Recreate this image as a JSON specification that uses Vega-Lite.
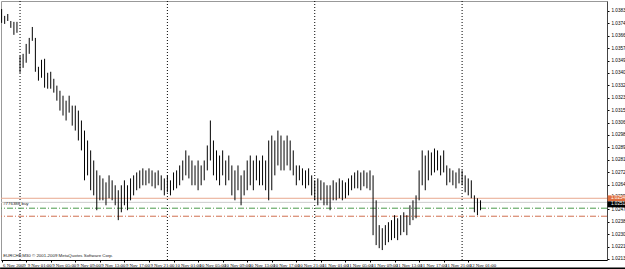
{
"$schema": "https://vega.github.io/schema/vega-lite/v6.json",
"width": 606, "height": 259,
"autosize": "none",
"padding": {"left": 1, "top": 1, "right": 18, "bottom": 9},
"background": "white",
"config": {"view": {"stroke": "#999999"}, "font": "Liberation Sans", "axis": {"labelOverlap": false, "tickCount": 200}},
"datasets": {
"bars": [
{"i":0,"h":1.03843,"l":1.03748},{"i":1,"h":1.03796,"l":1.03741},{"i":2,"h":1.03809,"l":1.03761},{"i":3,"h":1.03761,"l":1.03714},{"i":4,"h":1.03755,"l":1.03666},{"i":5,"h":1.03755,"l":1.03680},
{"i":6,"h":1.03522,"l":1.03406},{"i":7,"h":1.03536,"l":1.03440},{"i":8,"h":1.03604,"l":1.03475},{"i":9,"h":1.03645,"l":1.03536},{"i":10,"h":1.03720,"l":1.03625},{"i":11,"h":1.03645,"l":1.03413},{"i":12,"h":1.03447,"l":1.03352},{"i":13,"h":1.03495,"l":1.03372},{"i":14,"h":1.03502,"l":1.03304},{"i":15,"h":1.03406,"l":1.03297},{"i":16,"h":1.03413,"l":1.03297},{"i":17,"h":1.03365,"l":1.03270},
{"i":18,"h":1.03318,"l":1.03215},{"i":19,"h":1.03283,"l":1.03147},{"i":20,"h":1.03249,"l":1.03113},{"i":21,"h":1.03215,"l":1.03079},{"i":22,"h":1.03249,"l":1.03133},{"i":23,"h":1.03181,"l":1.03044},{"i":24,"h":1.03181,"l":1.03010},{"i":25,"h":1.03147,"l":1.02942},{"i":26,"h":1.03079,"l":1.02874},{"i":27,"h":1.03010,"l":1.02669},{"i":28,"h":1.02942,"l":1.02703},{"i":29,"h":1.02874,"l":1.02601},
{"i":30,"h":1.02805,"l":1.02566},{"i":31,"h":1.02737,"l":1.02464},{"i":32,"h":1.02703,"l":1.02532},{"i":33,"h":1.02682,"l":1.02532},{"i":34,"h":1.02655,"l":1.02498},{"i":35,"h":1.02703,"l":1.02546},{"i":36,"h":1.02669,"l":1.02532},{"i":37,"h":1.02635,"l":1.02498},{"i":38,"h":1.02601,"l":1.02396},{"i":39,"h":1.02635,"l":1.02450},
{"i":40,"h":1.02669,"l":1.02498},{"i":41,"h":1.02635,"l":1.02464},{"i":42,"h":1.02682,"l":1.02532},{"i":43,"h":1.02703,"l":1.02566},{"i":44,"h":1.02723,"l":1.02601},{"i":45,"h":1.02737,"l":1.02614},{"i":46,"h":1.02751,"l":1.02635},{"i":47,"h":1.02737,"l":1.02635},{"i":48,"h":1.02751,"l":1.02648},{"i":49,"h":1.02737,"l":1.02628},
{"i":50,"h":1.02723,"l":1.02614},{"i":51,"h":1.02737,"l":1.02635},{"i":52,"h":1.02703,"l":1.02601},{"i":53,"h":1.02682,"l":1.02566},{"i":54,"h":1.02703,"l":1.02587},{"i":55,"h":1.02669,"l":1.02566},{"i":56,"h":1.02723,"l":1.02601},{"i":57,"h":1.02737,"l":1.02614},{"i":58,"h":1.02771,"l":1.02635},{"i":59,"h":1.02805,"l":1.02669},
{"i":60,"h":1.02874,"l":1.02703},{"i":61,"h":1.02839,"l":1.02682},{"i":62,"h":1.02805,"l":1.02635},{"i":63,"h":1.02771,"l":1.02635},{"i":64,"h":1.02805,"l":1.02601},{"i":65,"h":1.02771,"l":1.02635},{"i":66,"h":1.02805,"l":1.02669},{"i":67,"h":1.02908,"l":1.02737},{"i":68,"h":1.03079,"l":1.02805},{"i":69,"h":1.02942,"l":1.02703},
{"i":70,"h":1.02874,"l":1.02669},{"i":71,"h":1.02839,"l":1.02635},{"i":72,"h":1.02874,"l":1.02703},{"i":73,"h":1.02805,"l":1.02635},{"i":74,"h":1.02839,"l":1.02669},{"i":75,"h":1.02771,"l":1.02566},{"i":76,"h":1.02737,"l":1.02532},{"i":77,"h":1.02771,"l":1.02601},{"i":78,"h":1.02703,"l":1.02498},{"i":79,"h":1.02737,"l":1.02566},
{"i":80,"h":1.02805,"l":1.02601},{"i":81,"h":1.02839,"l":1.02635},{"i":82,"h":1.02805,"l":1.02601},{"i":83,"h":1.02839,"l":1.02669},{"i":84,"h":1.02805,"l":1.02635},{"i":85,"h":1.02839,"l":1.02635},{"i":86,"h":1.02805,"l":1.02601},{"i":87,"h":1.02942,"l":1.02532},{"i":88,"h":1.02976,"l":1.02601},{"i":89,"h":1.02942,"l":1.02703},
{"i":90,"h":1.03010,"l":1.02771},{"i":91,"h":1.02976,"l":1.02737},{"i":92,"h":1.02942,"l":1.02737},{"i":93,"h":1.02976,"l":1.02771},{"i":94,"h":1.02942,"l":1.02737},{"i":95,"h":1.02874,"l":1.02703},{"i":96,"h":1.02771,"l":1.02635},{"i":97,"h":1.02771,"l":1.02669},{"i":98,"h":1.02751,"l":1.02635},{"i":99,"h":1.02737,"l":1.02614},
{"i":100,"h":1.02751,"l":1.02635},{"i":101,"h":1.02703,"l":1.02566},{"i":102,"h":1.02669,"l":1.02532},{"i":103,"h":1.02682,"l":1.02498},{"i":104,"h":1.02669,"l":1.02532},{"i":105,"h":1.02655,"l":1.02498},{"i":106,"h":1.02635,"l":1.02498},{"i":107,"h":1.02635,"l":1.02464},{"i":108,"h":1.02669,"l":1.02532},{"i":109,"h":1.02655,"l":1.02532},
{"i":110,"h":1.02682,"l":1.02546},{"i":111,"h":1.02669,"l":1.02532},{"i":112,"h":1.02655,"l":1.02546},{"i":113,"h":1.02682,"l":1.02566},{"i":114,"h":1.02703,"l":1.02601},{"i":115,"h":1.02723,"l":1.02614},{"i":116,"h":1.02737,"l":1.02614},{"i":117,"h":1.02723,"l":1.02601},{"i":118,"h":1.02737,"l":1.02628},{"i":119,"h":1.02723,"l":1.02614},
{"i":120,"h":1.02737,"l":1.02601},{"i":121,"h":1.02703,"l":1.02293},{"i":122,"h":1.02532,"l":1.02225},{"i":123,"h":1.02362,"l":1.02204},{"i":124,"h":1.02341,"l":1.02191},{"i":125,"h":1.02362,"l":1.02225},{"i":126,"h":1.02382,"l":1.02245},{"i":127,"h":1.02396,"l":1.02259},{"i":128,"h":1.02430,"l":1.02273},{"i":129,"h":1.02409,"l":1.02259},
{"i":130,"h":1.02430,"l":1.02293},{"i":131,"h":1.02450,"l":1.02314},{"i":132,"h":1.02430,"l":1.02293},{"i":133,"h":1.02498,"l":1.02362},{"i":134,"h":1.02532,"l":1.02396},{"i":135,"h":1.02566,"l":1.02409},{"i":136,"h":1.02737,"l":1.02532},{"i":137,"h":1.02874,"l":1.02635},{"i":138,"h":1.02839,"l":1.02601},{"i":139,"h":1.02874,"l":1.02669},
{"i":140,"h":1.02860,"l":1.02703},{"i":141,"h":1.02887,"l":1.02723},{"i":142,"h":1.02874,"l":1.02737},{"i":143,"h":1.02839,"l":1.02703},{"i":144,"h":1.02874,"l":1.02723},{"i":145,"h":1.02771,"l":1.02635},{"i":146,"h":1.02751,"l":1.02655},{"i":147,"h":1.02737,"l":1.02635},{"i":148,"h":1.02723,"l":1.02614},{"i":149,"h":1.02751,"l":1.02648},
{"i":150,"h":1.02737,"l":1.02635},{"i":151,"h":1.02703,"l":1.02587},{"i":152,"h":1.02682,"l":1.02566},{"i":153,"h":1.02669,"l":1.02546},{"i":154,"h":1.02566,"l":1.02450},{"i":155,"h":1.02546,"l":1.02430},{"i":156,"h":1.02532,"l":1.02464}
],
"seps": [{"i":6},{"i":54},{"i":102},{"i":150}],
"levels": [
{"name":"bid","p":1.02546,"dash":"solid"},
{"name":"ask","p":1.02518,"dash":"solid"},
{"name":"open","p":1.02478,"dash":"dashdot"},
{"name":"sl","p":1.02423,"dash":"dashdot"}
],
"boxes": [
{"name":"bid","top":1.02566,"bottom":1.02525,"mid":1.02546,"label":"1.02546"},
{"name":"ask","top":1.02525,"bottom":1.02484,"mid":1.02505,"label":"1.02518"}
],
"notes": [
{"label":"#776388 buy","p":1.02505},
{"label":"EURCHF,M30  © 2001-2009 MetaQuotes Software Corp.","p":1.02150}
],
"one": [{}]
},
"layer": [
{"data": {"name": "seps"}, "mark": {"type": "rule", "color": "#000000", "strokeDash": [1, 2], "strokeWidth": 1},
 "encoding": {"x": {"field": "i", "type": "quantitative"}}},
{"data": {"name": "levels"}, "mark": {"type": "rule", "strokeWidth": 1},
 "encoding": {"y": {"field": "p", "type": "quantitative"},
  "color": {"field": "name", "type": "nominal", "scale": {"domain": ["bid","ask","open","sl"], "range": ["#e8a890","#cccccc","#4a9a4a","#d07050"]}, "legend": null},
  "strokeDash": {"field": "dash", "type": "nominal", "scale": {"domain": ["solid","dashdot"], "range": [[1,0],[6,2,1,2]]}, "legend": null}}},
{"data": {"name": "bars"}, "mark": {"type": "rule", "color": "#000000", "strokeWidth": 1},
 "encoding": {
  "x": {"field": "i", "type": "quantitative", "scale": {"domain": [-0.2, 197.2], "nice": false, "zero": false},
   "axis": {"orient": "bottom", "title": null, "grid": false, "tickCount": 200, "values": [0,8,16,24,32,40,48,56,64,72,80,88,96,104,112,120,128,136,144,152],
    "labelExpr": "datum.value == 0 ? '6 Nov 2009' : (9 + floor((datum.value - 6) / 48)) + ' Nov ' + (((datum.value - 6) % 48) / 2 < 10 ? '0' : '') + (((datum.value - 6) % 48) / 2) + ':00'",
    "labelAlign": "left", "labelBaseline": "top", "labelFont": "Liberation Sans Narrow", "labelFontSize": 4.8, "labelColor": "#000000", "labelPadding": 0, "labelOffset": 1, "tickSize": 2, "tickColor": "#000000", "domainColor": "#000000", "labelOverlap": false, "labelFlush": false, "labelBound": false}},
  "y": {"field": "h", "type": "quantitative", "scale": {"domain": [1.02123, 1.03898], "nice": false, "zero": false},
   "axis": {"orient": "right", "title": null, "grid": false, "tickCount": 200, "values": [1.0213,1.02215,1.023,1.02385,1.0247,1.02555,1.0264,1.02725,1.0281,1.02895,1.0298,1.03065,1.0315,1.03235,1.0332,1.03405,1.0349,1.03575,1.0366,1.03745,1.0383],
    "format": ".5f", "labelFontSize": 4.6, "labelColor": "#000000", "labelPadding": 2, "tickSize": 2, "tickColor": "#000000", "domainColor": "#444444", "labelOverlap": false, "labelFlush": false, "labelBound": false}},
  "y2": {"field": "l"}}},
{"data": {"name": "notes"}, "mark": {"type": "text", "align": "left", "baseline": "middle", "fontSize": 4.4, "fill": "#222222"},
 "encoding": {"x": {"datum": 0.5, "type": "quantitative"}, "y": {"field": "p", "type": "quantitative"}, "text": {"field": "label"}}},
{"data": {"name": "boxes"}, "transform": [{"filter": "datum.name == 'bid'"}], "mark": {"type": "rect", "clip": false, "color": "#e07040"},
 "encoding": {"x": {"datum": 197.4, "type": "quantitative"}, "x2": {"datum": 205}, "y": {"field": "top", "type": "quantitative"}, "y2": {"field": "bottom"}}},
{"data": {"name": "boxes"}, "transform": [{"filter": "datum.name == 'ask'"}], "mark": {"type": "rect", "clip": false, "color": "#000000"},
 "encoding": {"x": {"datum": 197.4, "type": "quantitative"}, "x2": {"datum": 205}, "y": {"field": "top", "type": "quantitative"}, "y2": {"field": "bottom"}}},
{"data": {"name": "boxes"}, "mark": {"type": "text", "align": "left", "baseline": "middle", "fontSize": 4.6, "fill": "#ffffff", "clip": false},
 "encoding": {"x": {"datum": 198.5, "type": "quantitative"}, "y": {"field": "mid", "type": "quantitative"}, "text": {"field": "label"}}},
{"data": {"name": "one"}, "mark": {"type": "rule", "color": "#000000", "strokeWidth": 2, "clip": false},
 "encoding": {"y": {"datum": 1.02065, "type": "quantitative"}, "x": {"datum": -0.5, "type": "quantitative"}, "x2": {"datum": 205}}}
]
}
